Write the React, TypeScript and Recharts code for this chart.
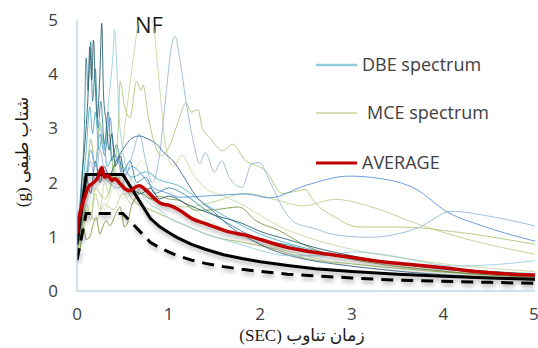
import React from "react";
import { LineChart, Line, XAxis, YAxis } from "recharts";

// [period (sec), spectral acceleration (g)]
type Pt = [number, number];

const X_TICKS = [0, 1, 2, 3, 4, 5];
const Y_TICKS = [0, 1, 2, 3, 4, 5];

// DBE records (blue family)
const DBE_1: Pt[] = [[0,0.9],[0.03,1.4],[0.06,2.2],[0.09,2.8],[0.12,3.6],[0.14,4.5],[0.16,3.9],[0.18,4.63],[0.2,3.8],[0.22,3.2],[0.25,4.0],[0.27,4.94],[0.29,3.6],[0.32,3.1],[0.35,2.6],[0.38,2.9],[0.42,2.3],[0.47,2.5],[0.52,2.1],[0.6,1.9],[0.7,1.8],[0.8,1.9],[0.9,1.7],[1.0,1.75],[1.2,1.6],[1.5,1.4],[1.8,1.25],[2.0,1.1],[2.3,0.95],[2.6,0.8],[3.0,0.65],[3.5,0.5],[4.0,0.42],[4.5,0.36],[5,0.3]];
const DBE_2: Pt[] = [[0,1.0],[0.04,1.8],[0.08,3.0],[0.1,4.3],[0.12,3.7],[0.15,4.6],[0.17,3.5],[0.2,4.1],[0.23,3.0],[0.26,3.5],[0.3,2.7],[0.34,3.3],[0.38,2.4],[0.43,2.7],[0.5,2.2],[0.58,2.4],[0.65,2.0],[0.75,2.1],[0.85,1.8],[1.0,1.9],[1.2,1.75],[1.4,1.5],[1.6,1.3],[1.8,1.1],[2.0,0.95],[2.3,0.85],[2.6,0.72],[3.0,0.6],[3.5,0.5],[4.0,0.4],[4.5,0.33],[5,0.28]];
const DBE_3: Pt[] = [[0,0.9],[0.05,1.6],[0.1,2.2],[0.15,2.6],[0.2,2.3],[0.25,3.0],[0.3,2.7],[0.35,3.6],[0.39,4.3],[0.41,4.82],[0.43,4.3],[0.46,3.2],[0.5,2.6],[0.55,2.2],[0.62,2.0],[0.7,1.8],[0.8,1.6],[0.9,1.5],[1.0,1.35],[1.2,1.2],[1.4,1.05],[1.6,0.95],[1.8,0.85],[2.0,0.75],[2.3,0.65],[2.7,0.65],[3.0,0.72],[3.4,0.66],[3.7,0.56],[4.1,0.46],[4.5,0.48],[5,0.56]];
const DBE_4: Pt[] = [[0,0.95],[0.05,1.5],[0.1,2.0],[0.15,2.6],[0.2,2.3],[0.25,2.9],[0.3,2.5],[0.36,3.2],[0.4,2.6],[0.45,2.4],[0.5,2.1],[0.6,2.3],[0.68,2.2],[0.8,1.95],[1.0,1.8],[1.12,1.73],[1.48,1.76],[1.84,1.79],[2.1,1.72],[2.5,1.95],[2.97,2.12],[3.33,2.07],[3.69,1.89],[4.05,1.45],[4.41,1.21],[5,0.92]];
const DBE_5: Pt[] = [[0,0.8],[0.05,1.3],[0.1,1.9],[0.15,2.4],[0.2,2.0],[0.25,2.6],[0.3,2.2],[0.35,2.0],[0.45,1.9],[0.55,2.2],[0.62,2.6],[0.68,2.9],[0.75,2.4],[0.82,2.0],[0.9,2.5],[0.97,3.6],[1.03,4.5],[1.07,4.7],[1.12,4.3],[1.19,3.5],[1.27,2.76],[1.34,2.35],[1.4,2.55],[1.5,2.2],[1.58,2.4],[1.66,2.1],[1.8,1.91],[1.91,2.35],[1.99,2.37],[2.1,2.04],[2.24,1.55],[2.37,1.27],[2.6,1.15],[2.78,1.05],[3.18,0.99],[3.73,1.17],[4.09,1.47],[4.5,1.38],[5,1.2]];
const DBE_6: Pt[] = [[0,0.85],[0.05,1.5],[0.1,2.1],[0.15,1.8],[0.2,2.4],[0.25,2.0],[0.3,2.3],[0.35,2.1],[0.4,2.3],[0.46,2.5],[0.54,2.71],[0.6,2.82],[0.68,2.86],[0.78,2.8],[0.87,2.71],[0.95,2.55],[1.05,2.4],[1.15,2.15],[1.3,1.75],[1.5,1.45],[1.7,1.15],[1.9,0.95],[2.1,0.78],[2.4,0.62],[2.8,0.5],[3.2,0.42],[3.6,0.35],[4,0.3],[4.5,0.25],[5,0.2]];
const DBE_7: Pt[] = [[0,1.0],[0.05,1.7],[0.1,2.6],[0.14,3.4],[0.17,2.9],[0.2,3.3],[0.24,2.6],[0.28,2.9],[0.33,2.3],[0.4,2.5],[0.5,2.3],[0.6,2.1],[0.75,2.2],[0.9,2.05],[1.1,1.95],[1.4,1.6],[1.7,1.3],[2.0,1.05],[2.3,0.88],[2.6,0.75],[3.0,0.6],[3.5,0.5],[4.0,0.42],[4.5,0.36],[5,0.32]];

// MCE records (green family)
const MCE_1: Pt[] = [[0,0.7],[0.05,1.1],[0.1,1.5],[0.15,1.3],[0.2,1.8],[0.25,1.5],[0.3,2.0],[0.35,1.8],[0.4,2.3],[0.45,2.0],[0.5,2.7],[0.54,3.3],[0.6,4.1],[0.66,4.85],[0.72,5.4],[0.78,5.4],[0.83,4.97],[0.9,3.8],[0.97,2.65],[1.05,2.3],[1.15,2.5],[1.25,2.2],[1.4,1.9],[1.6,1.75],[1.8,1.6],[2.0,1.4],[2.2,1.2],[2.5,1.0],[2.8,0.85],[3.2,0.7],[3.6,0.6],[4,0.5],[4.5,0.42],[5,0.36]];
const MCE_2: Pt[] = [[0,0.8],[0.05,1.2],[0.1,1.6],[0.15,1.4],[0.2,1.9],[0.3,1.7],[0.4,2.2],[0.45,3.0],[0.47,3.87],[0.52,3.4],[0.58,3.2],[0.65,3.87],[0.7,3.7],[0.72,3.8],[0.78,3.2],[0.85,2.7],[0.92,2.5],[1.01,2.68],[1.1,3.1],[1.19,3.47],[1.25,3.3],[1.32,3.35],[1.37,3.0],[1.45,2.83],[1.59,2.59],[1.7,2.71],[1.84,2.4],[1.92,2.34],[2.06,2.22],[2.24,1.8],[2.39,1.84],[2.5,1.87],[2.57,1.69],[2.82,1.36],[3.08,1.18],[3.55,1.18],[4.09,1.1],[5,0.86]];
const MCE_3: Pt[] = [[0,0.75],[0.05,1.1],[0.1,1.5],[0.2,1.3],[0.3,1.6],[0.4,1.5],[0.5,1.8],[0.6,1.6],[0.7,1.9],[0.8,1.7],[1.0,1.6],[1.2,1.55],[1.48,1.64],[1.84,1.8],[2.2,1.67],[2.46,1.57],[2.82,1.69],[3.18,1.57],[3.73,1.23],[4.27,0.95],[5,0.68]];
const MCE_4: Pt[] = [[0,0.6],[0.03,0.74],[0.07,1.18],[0.1,0.95],[0.14,1.0],[0.18,1.25],[0.21,1.36],[0.25,1.05],[0.28,1.18],[0.32,1.3],[0.36,1.2],[0.39,1.29],[0.43,1.45],[0.47,1.55],[0.52,1.18],[0.56,1.3],[0.6,1.6],[0.7,1.8],[0.8,1.7],[0.9,1.75],[1.0,1.7],[1.12,1.67],[1.3,1.49],[1.5,1.5],[1.77,1.55],[1.95,1.3],[2.2,1.12],[2.53,0.81],[2.9,0.62],[3.3,0.5],[3.8,0.4],[4.3,0.32],[5,0.26]];
const MCE_5: Pt[] = [[0,0.65],[0.05,1.0],[0.1,1.4],[0.2,1.7],[0.3,1.5],[0.4,1.9],[0.5,1.7],[0.6,2.1],[0.7,2.4],[0.8,2.2],[0.9,2.0],[1.0,1.85],[1.2,1.6],[1.4,1.35],[1.6,1.15],[1.8,1.0],[2.1,0.83],[2.5,0.65],[2.8,0.52],[3.18,0.42],[3.6,0.36],[4,0.31],[4.5,0.27],[5,0.24]];
const MCE_6: Pt[] = [[0,0.7],[0.05,1.3],[0.1,2.0],[0.15,2.8],[0.2,2.3],[0.25,3.1],[0.3,2.6],[0.35,2.9],[0.4,2.2],[0.5,2.0],[0.6,1.7],[0.8,1.5],[1.0,1.35],[1.2,1.2],[1.5,1.0],[1.8,0.9],[2.1,0.8],[2.5,0.6],[3.0,0.5],[3.5,0.42],[4,0.35],[4.5,0.3],[5,0.25]];

const AVERAGE: Pt[] = [[0,1.06],[0.01,1.25],[0.05,1.55],[0.09,1.76],[0.12,1.91],[0.18,2.0],[0.23,2.1],[0.27,2.28],[0.3,2.1],[0.34,2.13],[0.38,2.04],[0.41,2.07],[0.47,1.98],[0.52,1.89],[0.58,1.85],[0.63,1.91],[0.68,1.94],[0.76,1.85],[0.85,1.7],[0.92,1.61],[1.01,1.58],[1.12,1.49],[1.26,1.33],[1.41,1.24],[1.66,1.09],[1.84,1.03],[2.02,0.94],[2.28,0.81],[2.57,0.72],[2.82,0.66],[3.08,0.6],[3.33,0.54],[3.69,0.48],[4.05,0.42],[4.41,0.35],[5,0.29]];

// code design spectra
const DESIGN_DBE: Pt[] = [[0,0.86],[0.1,2.15],[0.5,2.15],[0.8,1.34],[0.9,1.19],[1,1.08],[1.1,0.98],[1.25,0.86],[1.4,0.77],[1.6,0.67],[1.8,0.6],[2,0.54],[2.3,0.47],[2.6,0.41],[3,0.36],[3.5,0.31],[4,0.27],[4.5,0.24],[5,0.215]];
const DESIGN_LOW: Pt[] = [[0,0.57],[0.1,1.43],[0.5,1.43],[0.8,0.9],[0.9,0.8],[1,0.72],[1.1,0.65],[1.25,0.57],[1.4,0.51],[1.6,0.45],[1.8,0.4],[2,0.36],[2.3,0.31],[2.6,0.28],[3,0.24],[3.5,0.2],[4,0.18],[4.5,0.16],[5,0.14]];

const thin: { data: Pt[]; color: string }[] = [
  { data: MCE_3, color: "#b7d08a" },
  { data: MCE_5, color: "#d7e4bd" },
  { data: MCE_1, color: "#c3d69b" },
  { data: MCE_2, color: "#a9c574" },
  { data: MCE_6, color: "#9bbb59" },
  { data: MCE_4, color: "#77933c" },
  { data: DBE_5, color: "#95b3d7" },
  { data: DBE_4, color: "#558ed5" },
  { data: DBE_6, color: "#376092" },
  { data: DBE_7, color: "#4bacc6" },
  { data: DBE_3, color: "#93cddd" },
  { data: DBE_2, color: "#31859c" },
  { data: DBE_1, color: "#215968" },
];

const toRows = (pts: Pt[]) => pts.map(([t, s]) => ({ t, s }));

const font = "'Open Sans', 'DejaVu Sans', sans-serif";
const serif = "'Liberation Serif', 'DejaVu Sans', serif";

export default function App() {
  return (
    <div style={{ position: "absolute", left: 0, top: 0, background: "#fff" }}>
      <LineChart width={538} height={348} margin={{ top: 20, right: 3, left: 0, bottom: 27 }}>
        <defs>
          <filter id="shadow" x="-10%" y="-10%" width="120%" height="140%">
            <feDropShadow dx="1" dy="3" stdDeviation="2" floodColor="#000" floodOpacity="0.3" />
          </filter>
        </defs>
        <XAxis
          type="number"
          dataKey="t"
          domain={[0, 5]}
          ticks={X_TICKS}
          allowDataOverflow
          height={30}
          stroke="#9dc3e6"
          tickLine={false}
          tickSize={0}
          tickMargin={17}
          tick={{ fill: "#404040", fontSize: 17, fontFamily: font }}
        />
        <YAxis
          type="number"
          domain={[0, 5]}
          ticks={Y_TICKS}
          allowDataOverflow
          width={77}
          stroke="#9dc3e6"
          tickLine={false}
          tickSize={0}
          tickMargin={19}
          tick={{ fill: "#404040", fontSize: 17, fontFamily: font }}
        />
        {thin.map((s, i) => (
          <Line
            key={i}
            data={toRows(s.data)}
            dataKey="s"
            type="monotone"
            stroke={s.color}
            strokeWidth={1}
            strokeOpacity={0.85}
            dot={false}
            isAnimationActive={false}
          />
        ))}
        <Line data={toRows(DESIGN_LOW)} dataKey="s" type="linear" stroke="#000" strokeWidth={3}
          strokeDasharray="12 8" dot={false} filter="url(#shadow)" isAnimationActive={false} />
        <Line data={toRows(DESIGN_DBE)} dataKey="s" type="linear" stroke="#000" strokeWidth={3}
          dot={false} filter="url(#shadow)" isAnimationActive={false} />
        <Line data={toRows(AVERAGE)} dataKey="s" type="monotone" stroke="#c00000" strokeWidth={3.5}
          dot={false} filter="url(#shadow)" isAnimationActive={false} />

        <text x={149} y={33} textAnchor="middle" fontSize={22} fontFamily={font} fill="#1a1a1a">NF</text>

        <g fontFamily={font} fontSize={18} fill="#404040">
          <line x1={316} x2={357} y1={65} y2={65} stroke="#93cddd" strokeWidth={2.5} />
          <text x={362} y={71}>DBE spectrum</text>
          <line x1={316} x2={357} y1={113} y2={113} stroke="#c3d69b" strokeWidth={1.5} />
          <text x={367} y={119}>MCE spectrum</text>
          <line x1={316} x2={357} y1={163} y2={163} stroke="#c00000" strokeWidth={3} />
          <text x={362} y={169}>AVERAGE</text>
        </g>

        <text x={302} y={341} textAnchor="middle" direction="rtl" fontSize={17} fontFamily={serif} fill="#1a1a1a">
          زمان تناوب (SEC)
        </text>
        <text x={24} y={152} transform="rotate(-90 24 152)" textAnchor="middle" direction="rtl"
          fontSize={17} fontFamily={serif} fill="#1a1a1a" dominantBaseline="middle">
          شتاب طیفی (g)
        </text>
      </LineChart>
    </div>
  );
}
